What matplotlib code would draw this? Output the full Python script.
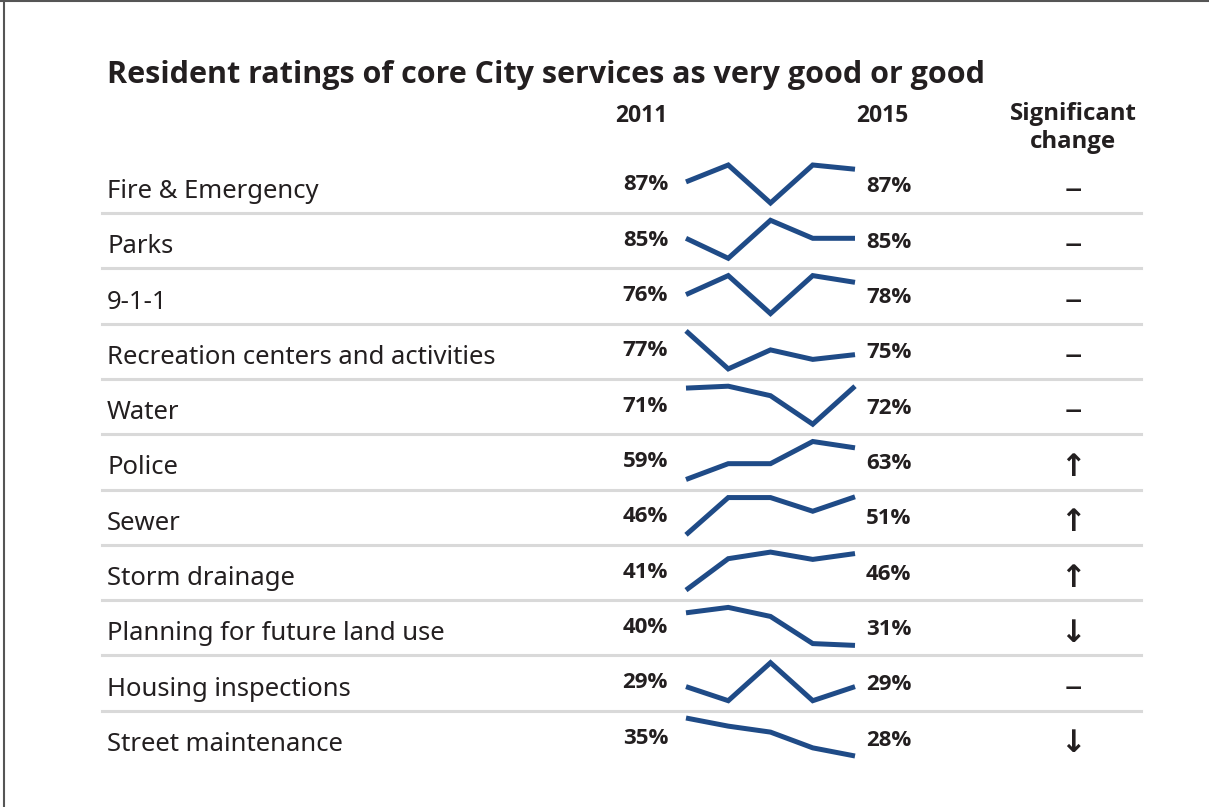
import numpy as np
import matplotlib
matplotlib.use("Agg")
import matplotlib.pyplot as plt

plt.rcParams['font.family'] = ['Noto Sans', 'DejaVu Sans']
BOLD = ['Open Sans', 'DejaVu Sans']

# data
services = ["Fire & Emergency", "Parks", "9-1-1", "Recreation centers and activities",
            "Water", "Police", "Sewer", "Storm drainage",
            "Planning for future land use", "Housing inspections", "Street maintenance"]
years = [2011, 2012, 2013, 2014, 2015]
ratings = [
    [86.8, 87.6, 85.8, 87.6, 87.4],
    [85.0, 83.0, 86.8, 85.0, 85.0],
    [76.0, 79.1, 72.9, 79.1, 78.0],
    [77.0, 73.8, 75.4, 74.6, 75.0],
    [71.4, 71.6, 70.6, 67.6, 71.6],
    [59.0, 61.0, 61.0, 63.8, 63.0],
    [46.0, 50.9, 50.9, 49.1, 51.0],
    [41.0, 45.3, 46.2, 45.2, 46.0],
    [40.0, 41.5, 39.0, 31.5, 31.0],
    [29.0, 27.0, 32.4, 27.0, 29.0],
    [35.0, 33.5, 32.4, 29.5, 28.0],
]
change = ["–", "–", "–", "–", "–", "↑", "↑", "↑", "↓", "–", "↓"]

W, H = 1209, 807
fig = plt.figure(figsize=(W / 100, H / 100), dpi=100)
bg = fig.add_axes([0, 0, 1, 1])
bg.set_xlim(0, W)
bg.set_ylim(H, 0)
bg.axis("off")

txt = "#231f20"
blue = "#1f4b87"
pitch = 55.3

# frame on left and top
bg.plot([3.5, 3.5], [0, H], color="#555555", lw=1.5)
bg.plot([0, W], [0.8, 0.8], color="#555555", lw=1.5)

bg.text(107, 83, "Resident ratings of core City services as very good or good",
        fontsize=22, fontweight="bold", color=txt, va="baseline", family=BOLD)
bg.text(668, 122, "2011", fontsize=16.5, fontweight="bold", color=txt, ha="right",
        va="baseline", family=BOLD)
bg.text(856, 122, "2015", fontsize=16.5, fontweight="bold", color=txt, ha="left",
        va="baseline", family=BOLD)
bg.text(1073, 120, "Significant", fontsize=17.3, fontweight="bold", color=txt,
        ha="center", va="baseline", family=BOLD)
bg.text(1073, 148, "change", fontsize=17.3, fontweight="bold", color=txt,
        ha="center", va="baseline", family=BOLD)

for i, name in enumerate(services):
    yc = 188 + pitch * i
    vals = ratings[i]
    bg.text(107, yc + 10, name, fontsize=18.5, color=txt, va="baseline")
    bg.text(668, yc - 3, f"{round(vals[0])}%", fontsize=16, fontweight="bold",
            color=txt, ha="right", va="center", family=BOLD)
    bg.text(866, yc - 1, f"{round(vals[-1])}%", fontsize=16, fontweight="bold",
            color=txt, ha="left", va="center", family=BOLD)
    if change[i] == "–":
        bg.text(1073, yc + 2, change[i], fontsize=25, color=txt, ha="center", va="center")
    else:
        bg.text(1073, yc + 3, change[i], fontsize=22, fontweight="bold", color=txt,
                ha="center", va="center", family="DejaVu Sans")
    if i < len(services) - 1:
        bg.plot([102, 1141], [yc + 25, yc + 25], color="#d9d9d9", lw=2.2)

    # sparkline
    top = 165 + pitch * i
    ax = fig.add_axes([686 / W, 1 - (top + 38) / H, 169 / W, 38 / H])
    ax.plot(years, vals, color=blue, lw=3.6, solid_joinstyle="miter",
            solid_capstyle="butt", clip_on=False)
    ax.set_xlim(years[0], years[-1])
    ax.set_ylim(min(vals), max(vals))
    ax.axis("off")

fig.savefig("out.png", dpi=100)
